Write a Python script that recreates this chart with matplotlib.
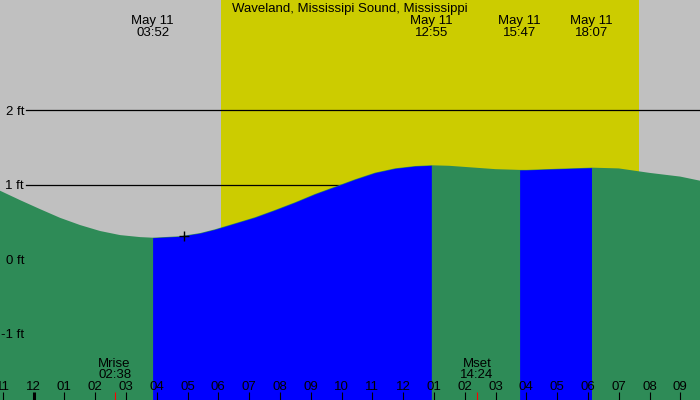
import matplotlib
matplotlib.use("Agg")
import matplotlib.pyplot as plt
import numpy as np
from matplotlib.transforms import blended_transform_factory, ScaledTranslation

# ---------------- data ----------------
title = "Waveland, Mississipi Sound, Mississippi"
date_label = "May 11"

# tide curve (hours from midnight May 11, feet)
curve_hours = [-1.088, -0.44, 0.21, 0.86, 1.51, 2.16, 2.81, 3.46, 3.867, 4.76,
               5.41, 5.89, 6.54, 7.19, 7.84, 8.49, 9.14, 9.79, 10.44, 11.09,
               11.74, 12.39, 12.917, 13.5, 14.0, 15.0, 15.783, 16.0, 17.0,
               18.117, 19.0, 20.0, 21.0, 21.64]
curve_feet = [0.921, 0.795, 0.674, 0.557, 0.460, 0.380, 0.325, 0.298, 0.290, 0.309,
              0.352, 0.402, 0.483, 0.564, 0.662, 0.765, 0.877, 0.975, 1.074, 1.163,
              1.221, 1.252, 1.262, 1.255, 1.24, 1.21, 1.20, 1.20, 1.215,
              1.23, 1.22, 1.16, 1.11, 1.055]

# tide extremes
extreme_times = ["03:52", "12:55", "15:47", "18:07"]
extreme_types = ["L", "H", "L", "H"]

sunrise = "06:05"
sunset = "19:39"
moonrise = "02:38"
moonset = "14:24"
marker_time = "04:53"

ft_levels = [2, 1, 0, -1]
ft_labels = ["2 ft", "1 ft", "0 ft", "-1 ft"]

tick_hours = list(range(-1, 22))
tick_labels = ["11", "12", "01", "02", "03", "04", "05", "06", "07", "08", "09",
               "10", "11", "12", "01", "02", "03", "04", "05", "06", "07", "08", "09"]

# ---------------- helpers ----------------
def to_h(s):
    h, m = s.split(":")
    return int(h) + int(m) / 60.0

C_BG = "#c0c0c0"
C_DAY = "#cccc00"
C_EBB = "#2e8b57"
C_FLOOD = "#0000ff"
FONT = "Liberation Sans"
FS = 9.5

W, H = 700, 400
PX_PER_H = 30.8
X_ZERO = 33.5
PX_PER_FT = 74.5
Y_ZERO = 259.3

fig = plt.figure(figsize=(W / 100, H / 100), dpi=100)
fig.patch.set_facecolor(C_BG)
ax = fig.add_axes([0, 0, 1, 1])
ax.set_facecolor(C_BG)
ax.set_xlim(-X_ZERO / PX_PER_H, (W - X_ZERO) / PX_PER_H)
ax.set_ylim((Y_ZERO - H) / PX_PER_FT, Y_ZERO / PX_PER_FT)
for s in ax.spines.values():
    s.set_visible(False)
ax.set_xticks([])
ax.set_yticks([])

bt = blended_transform_factory(ax.transData, ax.transAxes)

# daylight
ax.axvspan(to_h(sunrise), to_h(sunset), color=C_DAY, zorder=1, lw=0)

# horizontal level lines
for lv in ft_levels:
    ax.axhline(lv, xmin=26 / W, xmax=1, color="black", lw=0.9, zorder=2)

# tide fill
t = np.array(curve_hours)
f = np.array(curve_feet)
bottom = (Y_ZERO - H) / PX_PER_FT - 1
ax.fill_between(t, f, bottom, color=C_EBB, lw=0, zorder=3)
ext_h = [to_h(s) for s in extreme_times]
for i in range(len(ext_h) - 1):
    if extreme_types[i] == "L" and extreme_types[i + 1] == "H":
        m = (t >= ext_h[i] - 0.01) & (t <= ext_h[i + 1] + 0.01)
        ax.fill_between(t[m], f[m], bottom, color=C_FLOOD, lw=0, zorder=4)

# marker
mh = to_h(marker_time)
ax.plot([mh], [np.interp(mh, t, f)], marker="+", color="black", ms=7, mew=1, zorder=6)

# level labels
for lv, lab in zip(ft_levels, ft_labels):
    ax.text(-X_ZERO / PX_PER_H + 24 / PX_PER_H, lv, lab, ha="right", va="baseline",
            fontsize=FS, family=FONT, color="black", zorder=7,
            transform=ax.transData + ScaledTranslation(0, -4.5 / 100, fig.dpi_scale_trans))

# title
fig.text(0.5, 1 - 12 / H, title, ha="center", va="baseline", fontsize=FS, family=FONT)

# extremes labels
for s in extreme_times:
    x = to_h(s)
    ax.text(x, 1 - 24.3 / H, date_label, ha="center", va="baseline", fontsize=FS,
            family=FONT, transform=bt, zorder=7)
    ax.text(x, 1 - 36 / H, s, ha="center", va="baseline", fontsize=FS,
            family=FONT, transform=bt, zorder=7)

# moon labels
for name, s in [("Mrise", moonrise), ("Mset", moonset)]:
    x = to_h(s)
    ax.text(x, 1 - 366.7 / H, name, ha="center", va="baseline", fontsize=FS,
            family=FONT, transform=bt, zorder=7)
    ax.text(x, 1 - 378 / H, s, ha="center", va="baseline", fontsize=FS,
            family=FONT, transform=bt, zorder=7)
    ax.vlines(x, 0, 8 / H, color="red", lw=0.8, transform=bt, zorder=7)

# hour ticks + labels
for hh, lab in zip(tick_hours, tick_labels):
    lw = 2.2 if hh == 0 else 0.8
    ax.vlines(hh, 0, 8 / H, color="black", lw=lw, transform=bt, zorder=7)
    ax.text(hh, 1 - 390 / H, lab, ha="center", va="baseline", fontsize=FS,
            family=FONT, transform=bt, zorder=7)

fig.savefig("out.png", dpi=100, facecolor=C_BG)
